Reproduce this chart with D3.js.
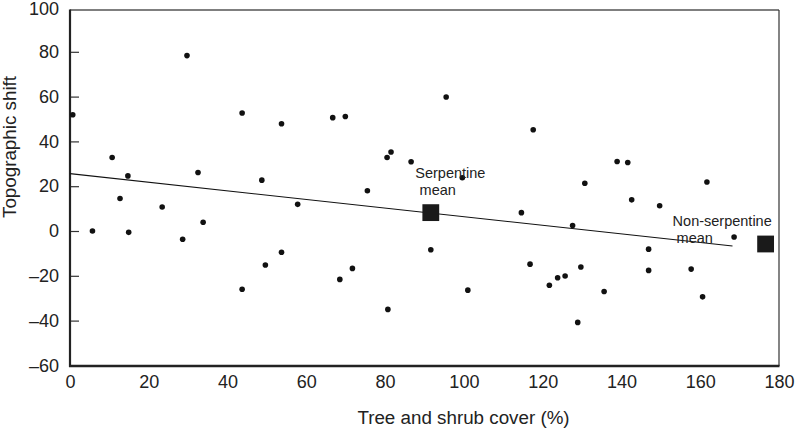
<!DOCTYPE html>
<html>
<head>
<meta charset="utf-8">
<script src="https://cdn.jsdelivr.net/npm/d3@7"></script>
<style>
  html, body { margin: 0; padding: 0; background: #fff; }
  svg { display: block; font-family: "Liberation Sans", Arial, Helvetica, sans-serif; }
</style>
</head>
<body>
<svg id="chart" width="797" height="428"></svg>
<script>
// ---- data ----
const coverX = [0.7, 29.7, 43.7, 10.7, 14.7, 32.5, 48.7, 12.7, 23.4, 5.7, 14.9, 33.8, 28.6, 43.7, 49.6,
  95.5, 53.7, 66.7, 69.9, 81.5, 80.5, 86.6, 99.6, 75.5, 117.6, 138.9, 141.6, 130.7, 161.7, 142.6,
  57.8, 114.6, 53.7, 68.5, 71.7, 91.6, 80.7, 101.0, 149.7, 127.6, 168.6, 146.9, 116.8, 129.7,
  123.8, 125.7, 121.7, 146.9, 157.7, 135.6, 160.6, 128.9];
const shiftY = [51.9, 78.3, 52.7, 32.8, 24.6, 26.1, 22.7, 14.5, 10.7, 0, -0.6, 3.9, -3.7, -26.0, -15.2,
  59.8, 47.9, 50.6, 51.1, 35.3, 32.8, 30.9, 23.8, 18.0, 45.2, 31.0, 30.6, 21.3, 21.9, 13.9,
  11.9, 8.2, -9.5, -21.6, -16.7, -8.4, -35.0, -26.4, 11.3, 2.4, -2.7, -8.1, -14.8, -16.1,
  -20.9, -20.1, -24.2, -17.6, -17.0, -27.0, -29.4, -40.8];
const fitX = [0, 168.2];
const fitY = [25.6, -6.7];
const meanNames = ["Serpentine", "Non-serpentine"];
const meanX = [91.6, 176.6];
const meanY = [8.2, -5.8];
const xTicks = [0, 20, 40, 60, 80, 100, 120, 140, 160, 180];
const yTicks = [-60, -40, -20, 0, 20, 40, 60, 80, 100];
const xTitle = "Tree and shrub cover (%)";
const yTitle = "Topographic shift";

// ---- layout ----
const svg = d3.select("#chart");
const left = 70, right = 779, frameTop = 10, bottom = 366;
const x = d3.scaleLinear().domain([0, 180]).range([left, right]);
const y = d3.scaleLinear().domain([-60, 100]).range([365.4, 7]);
const fmt = d => d < 0 ? "\u2013" + Math.abs(d) : String(d);

// frame: top and right thin
svg.append("line").attr("x1", left).attr("x2", right).attr("y1", frameTop).attr("y2", frameTop)
  .attr("stroke", "#555").attr("stroke-width", 1.5);
svg.append("line").attr("x1", right).attr("x2", right).attr("y1", frameTop).attr("y2", bottom)
  .attr("stroke", "#333").attr("stroke-width", 1.2);

// y axis
const gy = svg.append("g").attr("transform", `translate(${left},0)`)
  .call(d3.axisLeft(y).tickValues(yTicks).tickFormat(fmt).tickSizeInner(-9).tickSizeOuter(0).tickPadding(11));
gy.select(".domain").remove();
gy.selectAll(".tick line").attr("stroke", "#333").attr("stroke-width", 1.2)
  .filter(d => d === 100).remove();
gy.selectAll(".tick text").attr("font-size", 18).attr("fill", "#222");
gy.selectAll(".tick text").filter(d => d === 100).attr("y", 1.5);

// x axis
const gx = svg.append("g").attr("transform", `translate(0,${bottom})`)
  .call(d3.axisBottom(x).tickValues(xTicks).tickFormat(fmt).tickSize(0).tickPadding(9));
gx.select(".domain").remove();
gx.selectAll(".tick text").attr("font-size", 18).attr("fill", "#222");

// thick left & bottom axis lines
svg.append("line").attr("x1", left).attr("x2", left).attr("y1", frameTop - 0.5).attr("y2", bottom + 1)
  .attr("stroke", "#222").attr("stroke-width", 2.2);
svg.append("line").attr("x1", left - 1).attr("x2", right + 0.5).attr("y1", bottom).attr("y2", bottom)
  .attr("stroke", "#222").attr("stroke-width", 2.4);

// regression line
svg.append("line")
  .attr("x1", x(fitX[0])).attr("y1", y(fitY[0]))
  .attr("x2", x(fitX[1])).attr("y2", y(fitY[1]))
  .attr("stroke", "#111").attr("stroke-width", 1.1);

// points
svg.append("g").selectAll("circle").data(coverX.map((v, i) => [v, shiftY[i]])).join("circle")
  .attr("cx", d => x(d[0])).attr("cy", d => y(d[1])).attr("r", 2.8).attr("fill", "#111");

// mean squares
const sq = 16.8;
svg.append("g").selectAll("rect").data(meanX.map((v, i) => [v, meanY[i]])).join("rect")
  .attr("x", d => x(d[0]) - sq / 2).attr("y", d => y(d[1]) - sq / 2)
  .attr("width", sq).attr("height", sq).attr("fill", "#1a1a1a");

// annotations
const annFs = 14.5;
const ann = svg.append("g").attr("font-size", annFs).attr("fill", "#222");
const offs = [[[-15.5, -34.4], [-11.2, -17.7]], [[-93, -17.6], [-89, -1]]];
meanNames.forEach((nm, i) => {
  const cx = x(meanX[i]), cy = y(meanY[i]);
  ann.append("text").attr("x", cx + offs[i][0][0]).attr("y", cy + offs[i][0][1]).text(nm);
  ann.append("text").attr("x", cx + offs[i][1][0]).attr("y", cy + offs[i][1][1]).text("mean");
});

// titles
svg.append("text").attr("x", 463.5).attr("y", 423.5).attr("text-anchor", "middle")
  .attr("font-size", 18.8).attr("fill", "#222").text(xTitle);
svg.append("text").attr("transform", "translate(15.5,147) rotate(-90)").attr("text-anchor", "middle")
  .attr("font-size", 18.8).attr("fill", "#222").text(yTitle);
</script>
</body>
</html>
